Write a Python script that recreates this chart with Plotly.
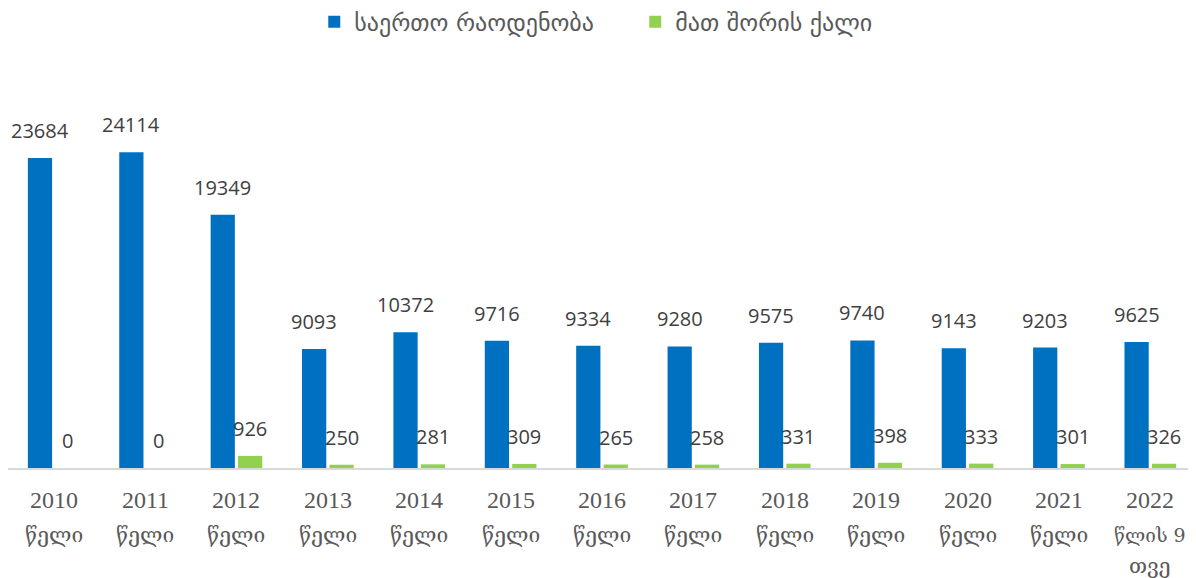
import plotly.graph_objects as go

years = ["2010", "2011", "2012", "2013", "2014", "2015", "2016", "2017", "2018", "2019", "2020", "2021", "2022"]
suffix_line2 = ["წელი"] * 12 + ["წლის 9"]
suffix_line3 = [""] * 12 + ["თვე"]
categories = [y + " " + s + (" " + t if t else "") for y, s, t in zip(years, suffix_line2, suffix_line3)]
total = [23684, 24114, 19349, 9093, 10372, 9716, 9334, 9280, 9575, 9740, 9143, 9203, 9625]
women = [0, 0, 926, 250, 281, 309, 265, 258, 331, 398, 333, 301, 326]

name_total = "საერთო რაოდენობა"
name_women = "მათ შორის ქალი"

# the page body has an 8px margin, so the figure is drawn at (8, 8)
W, H = 1188, 570
ML, MR, MT, MB = 0, 0, 52, 110
BARGAP, BARGROUPGAP = 0.40, 0.116
YMAX = 31160

fig = go.Figure()
fig.add_trace(go.Bar(x=categories, y=total, name=name_total, marker_color="#0070C0",
                     marker_line_width=0))
fig.add_trace(go.Bar(x=categories, y=women, name=name_women, marker_color="#92D050",
                     marker_line_width=0))

step_px = (W - ML - MR) / len(categories)
half_slot = step_px * (1 - BARGAP) / 4

label_font = dict(size=20, color="#404040", family="Open Sans, DejaVu Sans")
annotations = []
for cat, vt, vw in zip(categories, total, women):
    annotations.append(dict(x=cat, y=vt, xref="x", yref="y", text=str(vt), showarrow=False,
                            xanchor="center", yanchor="bottom", xshift=-half_slot, yshift=12,
                            font=label_font))
    annotations.append(dict(x=cat, y=vw, xref="x", yref="y", text=str(vw), showarrow=False,
                            xanchor="center", yanchor="bottom", xshift=half_slot, yshift=12,
                            font=label_font))

year_font = dict(size=24, color="#595959", family="Liberation Serif, DejaVu Serif")
geo_font = dict(size=21, color="#595959", family="DejaVu Serif, DejaVu Sans")
for cat, y, s2, s3 in zip(categories, years, suffix_line2, suffix_line3):
    annotations.append(dict(x=cat, y=0, xref="x", yref="paper", text=y, showarrow=False,
                            xanchor="center", yanchor="middle", yshift=-32, font=year_font))
    annotations.append(dict(x=cat, y=0, xref="x", yref="paper", text=s2, showarrow=False,
                            xanchor="center", yanchor="middle", yshift=-67,
                            font=geo_font if not s3 else dict(geo_font, size=19)))
    if s3:
        annotations.append(dict(x=cat, y=0, xref="x", yref="paper", text=s3, showarrow=False,
                                xanchor="center", yanchor="middle", yshift=-98, font=geo_font))

fig.update_layout(
    width=W, height=H,
    margin=dict(l=ML, r=MR, t=MT, b=MB, autoexpand=False),
    plot_bgcolor="white", paper_bgcolor="white",
    barmode="group", bargap=BARGAP, bargroupgap=BARGROUPGAP,
    showlegend=True,
    legend=dict(orientation="h", x=0.528, xanchor="center", y=1.093, yanchor="middle",
                font=dict(size=24, color="#595959", family="DejaVu Sans"),
                itemwidth=30, traceorder="normal", entrywidth=276, entrywidthmode="pixels"),
    xaxis=dict(showline=True, linecolor="#D9D9D9", linewidth=1.7, ticks="",
               showticklabels=False, fixedrange=True),
    yaxis=dict(visible=False, range=[0, YMAX], showgrid=False, zeroline=False),
    annotations=annotations,
)

fig.write_html("out.html")
